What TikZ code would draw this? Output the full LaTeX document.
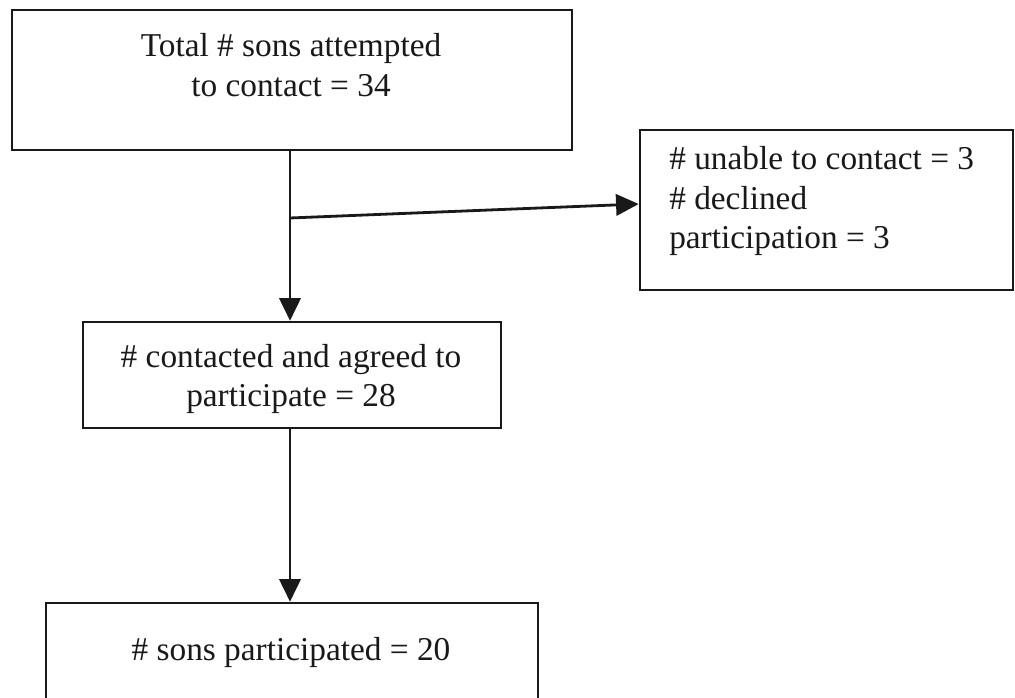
\documentclass[tikz,border=0pt]{standalone}
\usepackage{fontspec}
\setmainfont{Liberation Serif}
\usetikzlibrary{arrows.meta}
\begin{document}
\begin{tikzpicture}[x=0.75pt,y=-0.75pt,
  box/.style={draw=black!90,line width=1.9pt,rectangle,inner sep=0pt},
  lbl/.style={font=\fontsize{25}{29.5}\selectfont,inner sep=0pt,text=black!90},
  conn/.style={draw=black!90,line width=2.1pt,-{Triangle[length=17pt,width=16pt]}},
  plain/.style={draw=black!90,line width=2.1pt}]
\clip (0,0) rectangle (1015,698);
\fill[white] (0,0) rectangle (1015,698);
% boxes
\node[box,minimum width=420pt,minimum height=105pt] (b1) at (292,80) {};
\node[box,minimum width=279.75pt,minimum height=120pt] (b2) at (826.5,210) {};
\node[box,minimum width=313.5pt,minimum height=79.5pt] (b3) at (292,375) {};
\node[box,minimum width=369pt,minimum height=97.5pt] (b4) at (292,668) {};
% texts
\node[lbl,align=center] (t1) at (291,65) {Total \# sons attempted\\to contact = 34};
\node[lbl,align=left,anchor=west] (t2) at (669,201) {\# unable to contact = 3\\\# declined\\participation = 3};
\node[lbl,align=center] (t3) at (291,379) {\# contacted and agreed to\\participate = 28};
\node[lbl,align=center] (t4) at (291,652) {\# sons participated = 20};
% connectors
\coordinate (br) at (290,218);
\draw[conn] (b1.south -| br) -- (b3.north -| br);
\draw[conn] (br) -- ([yshift=4.5pt]b2.west);
\draw[conn] (b3.south -| br) -- (b4.north -| br);
\end{tikzpicture}
\end{document}
